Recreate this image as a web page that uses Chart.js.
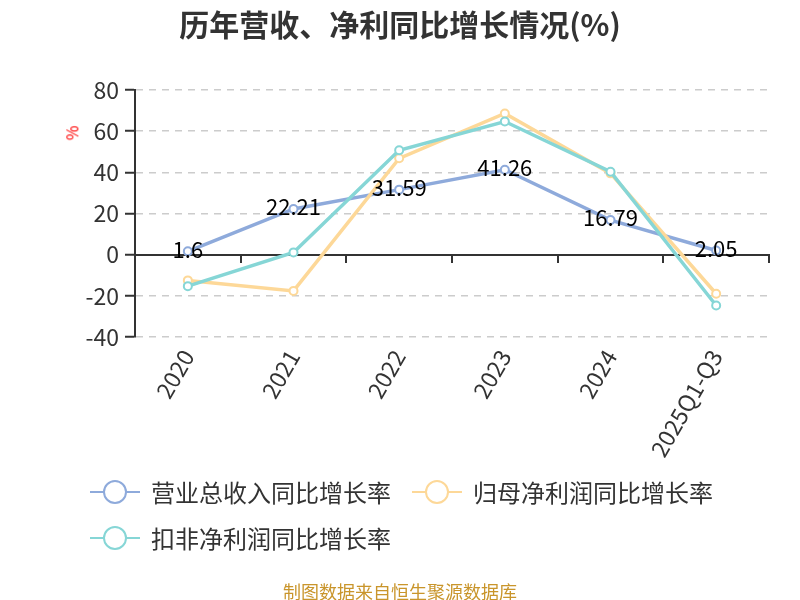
<!DOCTYPE html>
<html>
<head>
<meta charset="utf-8">
<script src="https://cdn.jsdelivr.net/npm/chart.js@4.4.1/dist/chart.umd.min.js"></script>
<style>
  html, body { margin: 0; padding: 0; background: #fff; }
  #wrap { position: relative; width: 800px; height: 600px; font-family: "Noto Sans CJK SC", "Noto Sans", sans-serif; }
  #chart { position: absolute; left: 0; top: 0; }
  #title { position: absolute; left: 0; top: 1px; width: 800px; text-align: center; font-size: 30px; font-weight: bold; color: #333; }
  #unit { position: absolute; left: 64px; top: 121px; color: #ff0000; font-size: 16px; transform: rotate(-90deg); }
  .lg { position: absolute; display: flex; align-items: center; font-size: 24px; color: #333; line-height: 30px; }
  .mk { position: relative; width: 50px; height: 26px; margin-right: 11px; }
  .mk .ln { position: absolute; left: 0; top: 12px; width: 50px; height: 2px; }
  .mk .dot { position: absolute; left: 13px; top: 1px; width: 20px; height: 20px; border-radius: 50%; background: #fff; border: 2px solid; }
  #footer { position: absolute; left: 0; top: 578px; width: 800px; text-align: center; font-size: 18px; color: #c9952b; line-height: 26px; }
</style>
</head>
<body>
<div id="wrap">
  <canvas id="chart" width="800" height="600"></canvas>
  <div id="title">历年营收、净利同比增长情况(%)</div>
  <div id="unit">%</div>
  <div id="legend"></div>
  <div id="footer">制图数据来自恒生聚源数据库</div>
</div>
<script>
// 数据
const categories = ['2020', '2021', '2022', '2023', '2024', '2025Q1-Q3'];
const revenueGrowth = [1.6, 22.21, 31.59, 41.26, 16.79, 2.05];
const netProfitGrowth = [-12.5, -17.6, 46.8, 68.6, 39.5, -19];
const deductedProfitGrowth = [-15.3, 1.1, 50.7, 64.7, 40.3, -24.7];
const seriesNames = ['营业总收入同比增长率', '归母净利润同比增长率', '扣非净利润同比增长率'];
const seriesColors = ['#8eaadb', '#fdd898', '#86d6d6'];
const yTicks = [-40, -20, 0, 20, 40, 60, 80];

// 图例 (HTML)
const legendPos = [[90, 477], [412, 477], [90, 523]];
const legendBox = document.getElementById('legend');
seriesNames.forEach((name, i) => {
    const item = document.createElement('div');
    item.className = 'lg';
    item.style.left = legendPos[i][0] + 'px';
    item.style.top = legendPos[i][1] + 'px';
    item.innerHTML = '<div class="mk"><div class="ln" style="background:' + seriesColors[i] +
        '"></div><div class="dot" style="border-color:' + seriesColors[i] + '"></div></div>';
    const txt = document.createElement('span');
    txt.textContent = name;
    item.appendChild(txt);
    legendBox.appendChild(item);
});

// 数据标签插件 (仅第一条曲线)
const valueLabels = {
    id: 'valueLabels',
    afterDatasetsDraw(chart) {
        const ctx = chart.ctx;
        const meta = chart.getDatasetMeta(0);
        ctx.save();
        ctx.font = '22px "Noto Sans CJK SC", "Noto Sans", sans-serif';
        ctx.fillStyle = '#000';
        ctx.textAlign = 'center';
        ctx.textBaseline = 'middle';
        meta.data.forEach((pt, i) => {
            ctx.fillText(String(revenueGrowth[i]), pt.x, pt.y - 2);
        });
        ctx.restore();
    }
};

function makeLine(label, data, color, order) {
    return {
        label: label,
        data: data,
        borderColor: color,
        backgroundColor: '#fff',
        borderWidth: 3.5,
        pointRadius: 4,
        pointBorderWidth: 2,
        pointBackgroundColor: '#fff',
        pointBorderColor: color,
        tension: 0,
        order: order
    };
}

const fontFamily = '"Noto Sans CJK SC", "Noto Sans", sans-serif';

new Chart(document.getElementById('chart').getContext('2d'), {
    type: 'line',
    data: {
        labels: categories,
        datasets: [
            makeLine(seriesNames[0], revenueGrowth, seriesColors[0], 2),
            makeLine(seriesNames[1], netProfitGrowth, seriesColors[1], 1),
            makeLine(seriesNames[2], deductedProfitGrowth, seriesColors[2], 0)
        ]
    },
    options: {
        responsive: false,
        animation: false,
        layout: { padding: { top: 90, right: 31, left: 0, bottom: 0 } },
        plugins: {
            legend: { display: false },
            title: { display: false },
            tooltip: { enabled: false }
        },
        scales: {
            x: {
                type: 'category',
                offset: true,
                grid: { display: false },
                border: { display: false },
                ticks: {
                    color: '#333',
                    font: { size: 23, family: fontFamily },
                    minRotation: 60,
                    maxRotation: 60,
                    padding: 0
                },
                afterFit(scale) { scale.height = 263; }
            },
            x2: {
                type: 'category',
                position: { y: 0 },
                offset: true,
                grid: { offset: true, drawOnChartArea: false, drawTicks: true, tickLength: 7, color: '#333', lineWidth: 2 },
                border: { display: true, color: '#333', width: 2 },
                ticks: { display: false }
            },
            y: {
                min: -40,
                max: 80,
                afterBuildTicks(scale) { scale.ticks = yTicks.map(v => ({ value: v })); },
                grid: {
                    color: '#cccccc',
                    lineWidth: 1.5,
                    tickLength: 10,
                    tickColor: '#333',
                    tickBorderDash: [],
                    tickWidth: 2
                },
                border: { display: true, color: '#333', width: 2, dash: [7, 6] },
                ticks: {
                    color: '#333',
                    font: { size: 23, family: fontFamily },
                    padding: 6
                },
                afterFit(scale) { scale.width = 135; }
            }
        }
    },
    plugins: [valueLabels]
});
</script>
</body>
</html>
